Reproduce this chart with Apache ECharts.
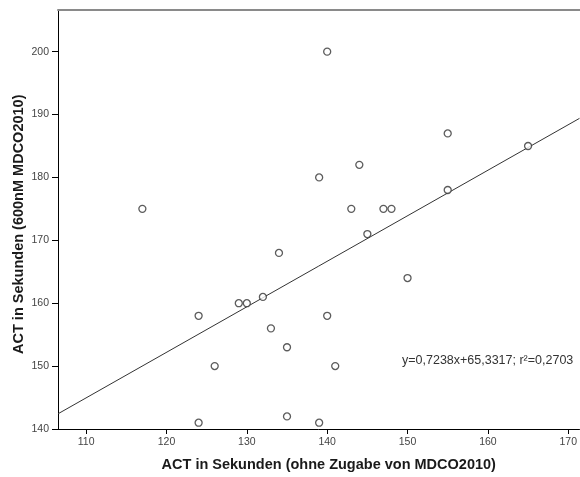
<!DOCTYPE html>
<html>
<head>
<meta charset="utf-8">
<script src="https://cdn.jsdelivr.net/npm/echarts@6/dist/echarts.min.js"></script>
<style>
html,body{margin:0;padding:0;background:#fff;}
#chart{width:580px;height:477px;}
</style>
</head>
<body>
<div id="chart"></div>
<script>
// Data
const xValues = [117,124,124,126,129,130,132,133,134,135,135,139,139,140,140,141,143,144,145,147,148,150,155,155,165];
const yValues = [175,158,141,150,160,160,161,156,168,153,142,180,141,200,158,150,175,182,171,175,175,164,187,178,185];
const xTicks = [110,120,130,140,150,160,170];
const yTicks = [140,150,160,170,180,190,200];
const fitSlope = 0.7238;
const fitIntercept = 65.3317;
const fitLabel = 'y=0,7238x+65,3317; r²=0,2703';
const xTitle = 'ACT in Sekunden (ohne Zugabe von MDCO2010)';
const yTitle = 'ACT in Sekunden (600nM MDCO2010)';

const xMin = 106.5, xMax = 171.4, yMin = 140, yMax = 206.7;

const points = xValues.map((x, i) => [x, yValues[i]]);
const fitLine = [xMin, xMax].map(x => [x, fitSlope * x + fitIntercept]);

const chart = echarts.init(document.getElementById('chart'), null, {renderer: 'canvas'});
const font = 'Liberation Sans, Arial, sans-serif';

chart.setOption({
  animation: false,
  backgroundColor: '#ffffff',
  grid: {left: 58, right: 0, top: 9.5, bottom: 45, containLabel: false},
  xAxis: [{
    type: 'value', min: xMin, max: xMax, position: 'bottom',
    name: xTitle, nameLocation: 'middle', nameGap: 28, nameMoveOverlap: false,
    nameTextStyle: {fontFamily: font, fontWeight: 'bold', fontSize: 14.5, color: '#1a1a1a', padding: [0, 0, 0, 20]},
    splitLine: {show: false},
    axisLine: {show: true, onZero: false, lineStyle: {color: '#000', width: 1}},
    axisTick: {show: true, length: 5, customValues: xTicks, lineStyle: {color: '#000'}},
    axisLabel: {customValues: xTicks, margin: 8, fontFamily: font, fontSize: 10.5, color: '#444'}
  }, {
    type: 'value', min: xMin, max: xMax, position: 'top',
    splitLine: {show: false},
    axisLine: {show: true, onZero: false, lineStyle: {color: '#8a8a8a', width: 2}},
    axisTick: {show: false}, axisLabel: {show: false}
  }],
  yAxis: [{
    type: 'value', min: yMin, max: yMax,
    name: yTitle, nameLocation: 'middle', nameGap: 32, nameRotate: 90, nameMoveOverlap: false,
    nameTextStyle: {fontFamily: font, fontWeight: 'bold', fontSize: 14.5, color: '#1a1a1a', padding: [0, 10, 0, 0]},
    splitLine: {show: false},
    axisLine: {show: true, onZero: false, lineStyle: {color: '#000', width: 1}},
    axisTick: {show: true, length: 6, customValues: yTicks, lineStyle: {color: '#000'}},
    axisLabel: {customValues: yTicks, margin: 9, fontFamily: font, fontSize: 10.5, color: '#444'}
  }],
  series: [{
    type: 'line', data: fitLine, symbol: 'none', silent: true, z: 2,
    lineStyle: {color: '#333', width: 1}
  }, {
    type: 'scatter', data: points, symbol: 'circle', symbolSize: 7, z: 3,
    itemStyle: {color: '#fff', borderColor: '#333', borderWidth: 1.3}
  }],
  graphic: [{
    type: 'text', left: 402, top: 354,
    style: {text: fitLabel, font: '12.5px ' + font, fill: '#333'}
  }]
});
</script>
</body>
</html>
